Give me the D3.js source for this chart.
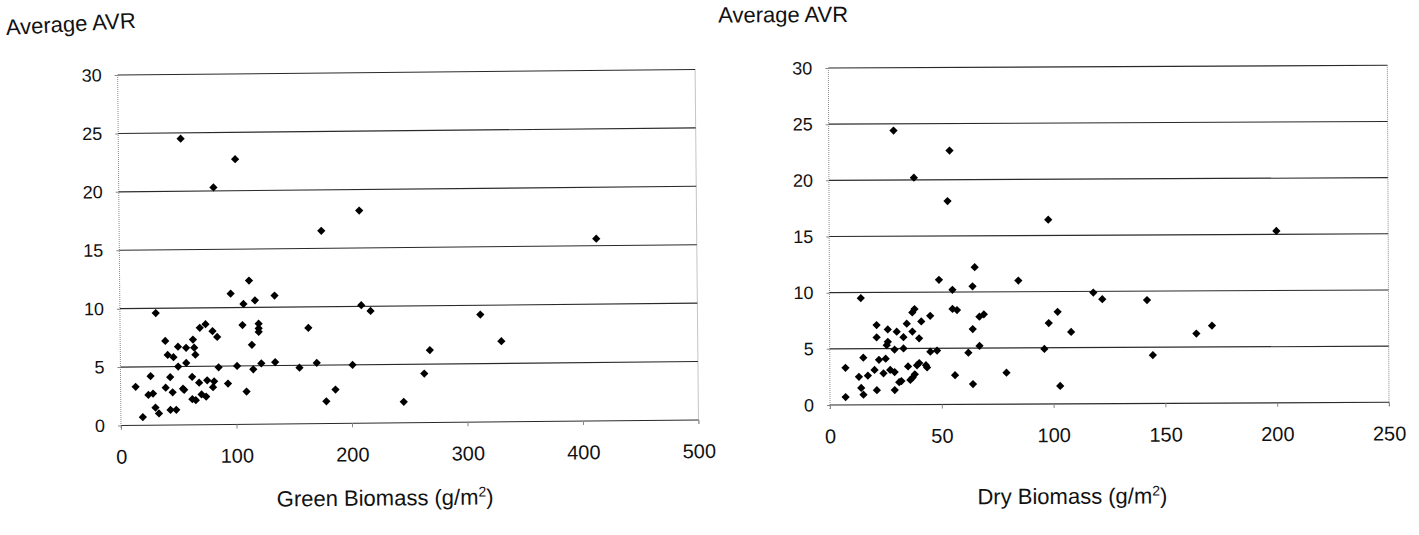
<!DOCTYPE html>
<html>
<head>
<meta charset="utf-8">
<script src="https://cdn.jsdelivr.net/npm/d3@7"></script>
<style>
  body { margin: 0; background: #fff; }
  svg text { font-family: "Liberation Sans", Arial, sans-serif; fill: #111; }
</style>
</head>
<body>
<svg id="chart" width="1419" height="535"></svg>
<script>
// values
const greenBiomass = [54, 101, 82, 175, 208, 112, 96, 134, 107, 117, 209, 217, 31, 106, 120, 120, 120, 163, 74, 69,
  80, 84, 63, 39, 50, 57, 64, 114, 65, 41, 46, 57, 50, 122, 134, 101, 85, 115, 155, 170,
  201, 26, 43, 62, 68, 75, 81, 80, 93, 13, 39, 54, 55, 45, 24, 28, 70, 74, 62, 65,
  109, 186, 178, 245, 30, 43, 48, 33, 19, 413, 312, 330, 268, 263];
const greenAvr = [24.5, 22.7, 20.3, 16.5, 18.2, 12.3, 11.2, 11.0, 10.3, 10.6, 10.1, 9.6, 9.6, 8.5, 8.6, 8.2, 7.9, 8.2, 8.6, 8.3,
  8.0, 7.5, 7.3, 7.2, 6.7, 6.6, 6.6, 6.8, 6.0, 6.0, 5.8, 5.3, 5.0, 5.2, 5.3, 5.0, 4.9, 4.7, 4.8, 5.2,
  5.0, 4.2, 4.1, 4.1, 3.6, 3.8, 3.7, 3.2, 3.5, 3.3, 3.2, 3.1, 3.0, 2.8, 2.6, 2.7, 2.6, 2.4, 2.2, 2.1,
  2.8, 2.9, 1.9, 1.8, 1.5, 1.3, 1.3, 1.0, 0.7, 15.6, 9.2, 6.9, 6.2, 4.2];

const dryBiomass = [29, 54, 38, 53, 98, 65, 49, 84.5, 55, 64, 118, 122, 14, 55, 57, 38, 37, 69, 67, 102,
  45, 41, 34.5, 21, 98, 108, 26, 30, 37, 64, 21, 33, 40, 26, 25.5, 29, 33, 45, 48, 67,
  62, 96, 7, 15, 17, 13, 20, 22, 25, 24, 27, 29, 31, 32, 29, 35, 36, 37, 38, 39,
  40, 43, 43.5, 56, 64, 79, 103, 21, 14, 15, 7, 142, 144.5, 164, 171, 200];
const dryAvr = [24.4, 22.6, 20.2, 18.1, 16.4, 12.2, 11.1, 11.0, 10.2, 10.5, 9.9, 9.3, 9.5, 8.5, 8.4, 8.5, 8.2, 8.0, 7.8, 8.2,
  7.9, 7.4, 7.2, 7.1, 7.2, 6.4, 6.7, 6.5, 6.5, 6.7, 6.0, 6.0, 5.9, 5.6, 5.3, 4.9, 5.0, 4.7, 4.8, 5.2,
  4.6, 4.9, 3.3, 4.2, 2.6, 2.5, 3.1, 4.0, 4.1, 2.8, 3.1, 2.9, 2.0, 2.1, 1.3, 3.4, 2.2, 2.4, 2.7, 3.5,
  3.7, 3.5, 3.3, 2.6, 1.8, 2.8, 1.6, 1.3, 1.5, 0.9, 0.7, 9.2, 4.3, 6.2, 6.9, 15.3];

const avrTicks = [0, 5, 10, 15, 20, 25, 30];
const greenTicks = [0, 100, 200, 300, 400, 500];
const dryTicks = [0, 50, 100, 150, 200, 250];

const svg = d3.select("#chart");

function drawPanel(cfg) {
  // the scan is a little crooked, so each panel is turned slightly
  const g = svg.append("g")
    .attr("transform", `rotate(${cfg.angle},${cfg.left},${cfg.bottom})`);

  const x = d3.scaleLinear().domain(cfg.xDomain).range([cfg.left, cfg.right]);
  const y = d3.scaleLinear().domain([0, 30]).range([cfg.bottom, cfg.top]);

  // dotted grey left and right edges
  g.append("line")
    .attr("x1", cfg.left).attr("x2", cfg.left).attr("y1", cfg.top).attr("y2", cfg.bottom + 4)
    .attr("stroke", "#8a8a8a").attr("stroke-dasharray", "1,1");
  g.append("line")
    .attr("x1", cfg.right).attr("x2", cfg.right).attr("y1", cfg.top).attr("y2", cfg.bottom + 4)
    .attr("stroke", "#8a8a8a").attr("stroke-dasharray", "1,1");

  // horizontal gridlines
  g.append("g").selectAll("line")
    .data(avrTicks)
    .join("line")
    .attr("x1", cfg.left).attr("x2", cfg.right)
    .attr("y1", d => y(d)).attr("y2", d => y(d))
    .attr("stroke", "#2a2a2a")
    .attr("stroke-width", 1.1);

  const yAxis = g.append("g")
    .attr("transform", `translate(${cfg.left},0)`)
    .call(d3.axisLeft(y).tickValues(avrTicks).tickSize(3).tickPadding(13));
  yAxis.select(".domain").remove();
  yAxis.selectAll("line").attr("stroke", "#888");
  yAxis.selectAll("text").style("font-size", "18px").attr("fill", "#111");

  const xAxis = g.append("g")
    .attr("transform", `translate(0,${cfg.bottom})`)
    .call(d3.axisBottom(x).tickValues(cfg.xTicks).tickSize(4).tickPadding(20));
  xAxis.select(".domain").remove();
  xAxis.selectAll("line").attr("stroke", "#888");
  xAxis.selectAll("text").style("font-size", "20px").attr("fill", "#111");

  // diamonds
  const sq = d3.symbol().type(d3.symbolSquare).size(34);
  g.append("g").selectAll("path")
    .data(cfg.xs.map((v, i) => [v, cfg.ys[i]]))
    .join("path")
    .attr("d", sq)
    .attr("transform", d => `translate(${x(d[0])},${y(d[1])}) rotate(45)`)
    .attr("fill", "#000");

  g.append("text")
    .attr("x", cfg.yTitle[0]).attr("y", cfg.yTitle[1])
    .attr("transform", `rotate(${cfg.yTitleAngle},${cfg.yTitle[0]},${cfg.yTitle[1]})`)
    .style("font-size", "22px")
    .text("Average AVR");

  const t = g.append("text")
    .attr("x", cfg.xTitle[0]).attr("y", cfg.xTitle[1])
    .style("font-size", "22px");
  t.append("tspan").text(cfg.xLabel + " (g/m");
  t.append("tspan").attr("dy", -8).style("font-size", "14px").text("2");
  t.append("tspan").attr("dy", 8).text(")");
}

drawPanel({
  angle: -0.55, left: 121, right: 698.5, top: 75, bottom: 425.5,
  xDomain: [0, 500], xTicks: greenTicks, xs: greenBiomass, ys: greenAvr,
  yTitle: [10, 34], yTitleAngle: -2.6, xTitle: [276, 508], xLabel: "Green Biomass"
});

drawPanel({
  angle: -0.28, left: 830, right: 1389, top: 68, bottom: 405,
  xDomain: [0, 250], xTicks: dryTicks, xs: dryBiomass, ys: dryAvr,
  yTitle: [720, 22], yTitleAngle: 0, xTitle: [977, 505], xLabel: "Dry Biomass"
});
</script>
</body>
</html>
